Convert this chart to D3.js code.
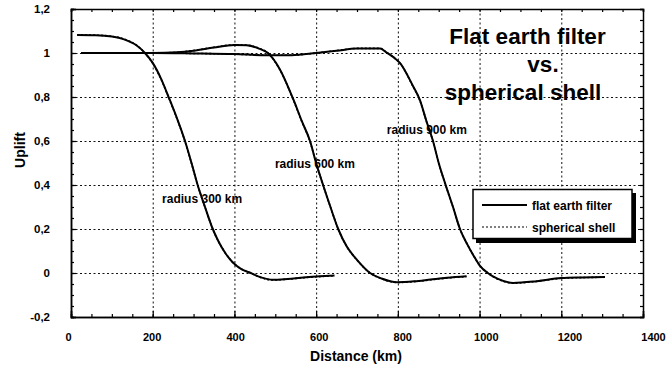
<!DOCTYPE html>
<html>
<head>
<meta charset="utf-8">
<script src="https://cdn.jsdelivr.net/npm/d3@7"></script>
<style>
  html, body { margin: 0; padding: 0; background: #fff; }
  svg { display: block; font-family: "Liberation Sans", Arial, Helvetica, sans-serif; }
</style>
</head>
<body>
<svg id="chart" width="670" height="371"></svg>
<script>
// ---------- data ----------
const distance300 = [15, 60, 100, 130, 160, 181, 200, 220, 240, 260, 279, 295, 310, 328, 347, 362, 378, 395, 415, 440, 465, 494, 530, 570, 610, 645];
const flat300     = [1.082, 1.081, 1.075, 1.062, 1.035, 1.0, 0.955, 0.885, 0.795, 0.7, 0.6, 0.5, 0.4, 0.3, 0.2, 0.14, 0.09, 0.05, 0.02, 0.0, -0.02, -0.031, -0.027, -0.02, -0.015, -0.011];
const shell300    = [1.082, 1.081, 1.076, 1.063, 1.036, 1.0, 0.953, 0.883, 0.793, 0.698, 0.598, 0.498, 0.399, 0.299, 0.2, 0.14, 0.09, 0.05, 0.02, 0.0, -0.021, -0.032, -0.028, -0.021, -0.016, -0.012];

const distance600 = [25, 100, 200, 260, 300, 350, 400, 430, 460, 482, 510, 544, 565, 585, 600, 617, 635, 654, 675, 700, 732, 760, 798, 840, 880, 920, 968];
const flat600     = [1.0, 1.0, 1.0, 1.003, 1.01, 1.025, 1.036, 1.035, 1.02, 1.0, 0.93, 0.79, 0.69, 0.6, 0.5, 0.4, 0.3, 0.2, 0.12, 0.06, 0.0, -0.025, -0.042, -0.038, -0.03, -0.022, -0.015];
const shell600    = [1.0, 1.0, 1.0, 1.003, 1.011, 1.026, 1.037, 1.036, 1.021, 1.0, 0.928, 0.788, 0.688, 0.598, 0.499, 0.399, 0.3, 0.2, 0.12, 0.059, 0.0, -0.026, -0.043, -0.039, -0.031, -0.023, -0.016];

const distance900 = [25, 100, 200, 300, 400, 480, 540, 600, 650, 700, 757, 770, 790, 805, 837, 854, 870, 886, 900, 917, 935, 952, 970, 985, 1000, 1020, 1045, 1082, 1140, 1200, 1250, 1307];
const flat900     = [1.0, 1.0, 1.0, 0.998, 0.995, 0.99, 0.99, 1.0, 1.01, 1.02, 1.02, 1.005, 0.98, 0.955, 0.85, 0.786, 0.69, 0.6, 0.5, 0.4, 0.3, 0.2, 0.13, 0.08, 0.035, 0.0, -0.027, -0.045, -0.037, -0.023, -0.02, -0.018];
const shell900    = [1.0, 1.0, 1.0, 0.998, 0.995, 0.99, 0.99, 1.0, 1.011, 1.021, 1.021, 1.006, 0.98, 0.954, 0.848, 0.784, 0.689, 0.599, 0.499, 0.399, 0.299, 0.2, 0.13, 0.08, 0.035, 0.0, -0.028, -0.046, -0.038, -0.024, -0.021, -0.019];

const radiusLabels = ["radius 300 km", "radius 600 km", "radius 900 km"];
const radiusLabelAt = [[223, 0.318], [499, 0.477], [773, 0.632]]; // [distance, uplift] anchor (start, baseline) of each label
const seriesNames = ["flat earth filter", "spherical shell"];
const titleLines = ["Flat earth filter", "vs.", "spherical shell"];

const xTickValues = [0, 200, 400, 600, 800, 1000, 1200, 1400];
const xTickLabels = ["0", "200", "400", "600", "800", "1000", "1200", "1400"];
const yTickValues = [-0.2, 0, 0.2, 0.4, 0.6, 0.8, 1.0, 1.2];
const yTickLabels = ["-0,2", "0", "0,2", "0,4", "0,6", "0,8", "1", "1,2"];
const xMinorTicks = d3.range(0, 1401, 50);
const yMinorTicks = d3.range(-0.2, 1.2001, 0.05);
const xAxisTitle = "Distance (km)";
const yAxisTitle = "Uplift";

// ---------- layout ----------
const svg = d3.select("#chart");
const L = 71, R = 643, T = 9, B = 317;
const x = d3.scaleLinear().domain([0, 1400]).range([L, R]);
const xLab = d3.scaleLinear().domain([0, 1400]).range([68, 653]);
const y = d3.scaleLinear().domain([-0.2, 1.2]).range([B, T]);

svg.append("rect").attr("width", 670).attr("height", 371).attr("fill", "#fff");

// grid
const grid = svg.append("g").attr("stroke", "#111").attr("stroke-width", 1).attr("stroke-dasharray", "2,2.5");
grid.selectAll(".gx").data(xTickValues.filter(v => v > 0 && v < 1400)).join("line")
  .attr("x1", d => x(d) + 0.5).attr("x2", d => x(d) + 0.5).attr("y1", T).attr("y2", B);
grid.selectAll(".gy").data(yTickValues.filter(v => v > -0.2 && v < 1.2)).join("line")
  .attr("x1", L).attr("x2", R).attr("y1", d => Math.round(y(d)) + 0.5).attr("y2", d => Math.round(y(d)) + 0.5);

// axes with inward ticks
function styleAxis(g) { g.select(".domain").attr("stroke", "#000").attr("stroke-width", 1.5); g.selectAll("line").attr("stroke", "#000").attr("stroke-width", 1.2); }
svg.append("g").attr("transform", `translate(0,${B})`).call(d3.axisBottom(x).tickValues(xMinorTicks).tickSize(-3).tickFormat("")).call(styleAxis);
svg.append("g").attr("transform", `translate(0,${B})`).call(d3.axisBottom(x).tickValues(xTickValues).tickSize(-6).tickFormat("")).call(styleAxis);
svg.append("g").attr("transform", `translate(0,${T})`).call(d3.axisTop(x).tickValues(xMinorTicks).tickSize(-3).tickFormat("")).call(styleAxis);
svg.append("g").attr("transform", `translate(${L},0)`).call(d3.axisLeft(y).tickValues(yMinorTicks).tickSize(-3).tickFormat("")).call(styleAxis);
svg.append("g").attr("transform", `translate(${L},0)`).call(d3.axisLeft(y).tickValues(yTickValues).tickSize(-5).tickFormat("")).call(styleAxis);
svg.append("g").attr("transform", `translate(${R},0)`).call(d3.axisRight(y).tickValues(yMinorTicks).tickSize(-3).tickFormat("")).call(styleAxis);

// tick labels
const xl = svg.append("g").attr("transform", `translate(0,${B})`)
  .call(d3.axisBottom(xLab).tickValues(xTickValues).tickSize(0).tickPadding(16).tickFormat((d, i) => xTickLabels[i]));
xl.select(".domain").remove();
xl.selectAll("text").attr("font-size", 11).attr("font-weight", "bold").attr("fill", "#000").attr("font-family", "Liberation Sans, Arial, sans-serif");

const yl = svg.append("g").attr("transform", `translate(${L},0)`)
  .call(d3.axisLeft(y).tickValues(yTickValues).tickSize(0).tickPadding(21).tickFormat((d, i) => yTickLabels[i]));
yl.select(".domain").remove();
yl.selectAll("text").attr("font-size", 11.5).attr("font-weight", "bold").attr("fill", "#000").attr("font-family", "Liberation Sans, Arial, sans-serif");

// axis titles
svg.append("text").attr("x", 356).attr("y", 361).attr("text-anchor", "middle")
  .attr("font-size", 14).attr("font-weight", "bold").text(xAxisTitle);
svg.append("text").attr("transform", "translate(25,150) rotate(-90)").attr("text-anchor", "middle")
  .attr("font-size", 14).attr("font-weight", "bold").text(yAxisTitle);

// curves
const curves = [
  { d: distance300, flat: flat300, shell: shell300 },
  { d: distance600, flat: flat600, shell: shell600 },
  { d: distance900, flat: flat900, shell: shell900 }
];
const line = d3.line().x(p => x(p[0])).y(p => y(p[1])).curve(d3.curveMonotoneX);
const cg = svg.append("g").attr("fill", "none");
curves.forEach(c => {
  cg.append("path").attr("d", line(c.d.map((v, i) => [v, c.flat[i]])))
    .attr("stroke", "#000").attr("stroke-width", 2);
  cg.append("path").attr("d", line(c.d.map((v, i) => [v, c.shell[i]])))
    .attr("stroke", "#000").attr("stroke-width", 1.6).attr("stroke-dasharray", "2,2");
});

// radius labels
svg.append("g").selectAll("text").data(radiusLabels).join("text")
  .attr("x", (d, i) => x(radiusLabelAt[i][0])).attr("y", (d, i) => y(radiusLabelAt[i][1]))
  .attr("font-size", 12).attr("font-weight", "bold").text(d => d);

// title
const titleX = [527.5, 543, 523], titleY = [44, 72, 100];
svg.append("g").selectAll("text").data(titleLines).join("text")
  .attr("x", (d, i) => titleX[i]).attr("y", (d, i) => titleY[i])
  .attr("text-anchor", "middle").attr("font-size", 22.5).attr("font-weight", "bold").text(d => d);

// legend
const lg = svg.append("g");
lg.append("rect").attr("x", 476).attr("y", 193).attr("width", 160).attr("height", 50).attr("fill", "#000");
lg.append("rect").attr("x", 473).attr("y", 189.5).attr("width", 159).attr("height", 49).attr("fill", "#fff").attr("stroke", "#000").attr("stroke-width", 1.5);
const legRows = [205, 227];
seriesNames.forEach((n, i) => {
  lg.append("line").attr("x1", 482).attr("x2", 527).attr("y1", legRows[i]).attr("y2", legRows[i])
    .attr("stroke", "#000").attr("stroke-width", i === 0 ? 1.8 : 1.2).attr("stroke-dasharray", i === 0 ? null : "2,2");
  lg.append("text").attr("x", 532).attr("y", legRows[i] + 5).attr("font-size", 12).attr("font-weight", "bold").text(n);
});
</script>
</body>
</html>
